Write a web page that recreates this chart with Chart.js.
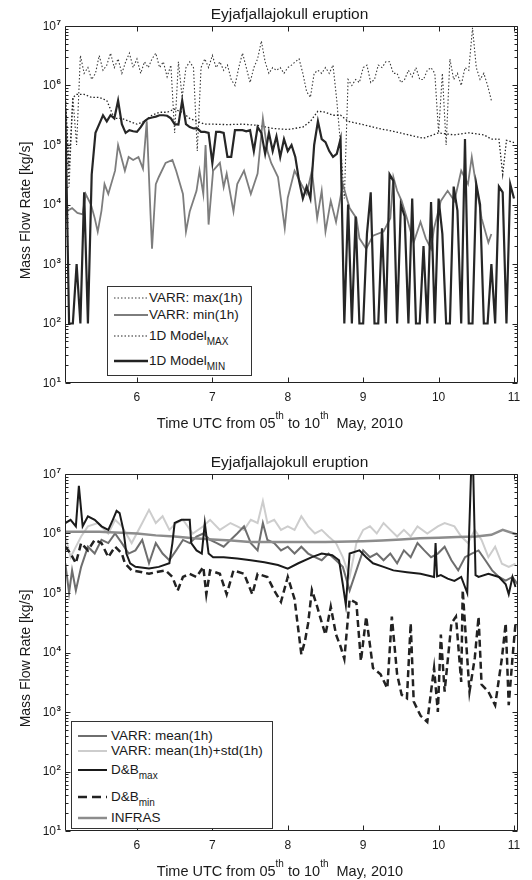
<!DOCTYPE html>
<html>
<head>
<meta charset="utf-8">
<script src="https://cdn.jsdelivr.net/npm/chart.js@4.4.0/dist/chart.umd.min.js"></script>
<style>
  body { margin: 0; background: #fff; overflow: hidden; font-family: "Liberation Sans", Arial, sans-serif; }
  .panel { position: absolute; left: 0; width: 532px; height: 440px; }
  .legend { position: absolute; background: #fff; border: 1px solid #333; box-sizing: border-box; }
  .row { position: absolute; left: 0; width: 100%; height: 16px; }
  .row svg { position: absolute; top: 5px; }
  .row span { position: absolute; top: 0; line-height: 16px; font-size: 13.5px; white-space: nowrap; color: #1a1a1a; }
  sub { font-size: 10px; vertical-align: -5px; line-height: 0; }
</style>
</head>
<body>

<div class="panel" style="top:0">
  <canvas id="top-chart" width="532" height="440"></canvas>
  <div class="legend" style="left:107px;top:286px;width:145px;height:90px">
    <div class="row" style="top:3px"><svg width="34" height="6" style="left:6px"><line x1="0" y1="3" x2="34" y2="3" stroke="#3a3a3a" stroke-width="1.2" stroke-dasharray="1.5 2"/></svg><span style="left:41px">VARR: max(1h)</span></div>
    <div class="row" style="top:20px"><svg width="34" height="6" style="left:6px"><line x1="0" y1="3" x2="34" y2="3" stroke="#7d7d7d" stroke-width="2"/></svg><span style="left:41px">VARR: min(1h)</span></div>
    <div class="row" style="top:41px"><svg width="34" height="6" style="left:6px"><line x1="0" y1="3" x2="34" y2="3" stroke="#222" stroke-width="1.2" stroke-dasharray="1.5 2"/></svg><span style="left:41px">1D Model<sub>MAX</sub></span></div>
    <div class="row" style="top:66px"><svg width="34" height="6" style="left:6px"><line x1="0" y1="3" x2="34" y2="3" stroke="#222" stroke-width="2.5"/></svg><span style="left:41px">1D Model<sub>MIN</sub></span></div>
  </div>
</div>

<div class="panel" style="top:448px">
  <canvas id="bottom-chart" width="532" height="440"></canvas>
  <div class="legend" style="left:71px;top:273px;width:202px;height:108px">
    <div class="row" style="top:6px"><svg width="29" height="6" style="left:6px"><line x1="0" y1="3" x2="29" y2="3" stroke="#6e6e6e" stroke-width="2"/></svg><span style="left:39px">VARR: mean(1h)</span></div>
    <div class="row" style="top:21px"><svg width="29" height="6" style="left:6px"><line x1="0" y1="3" x2="29" y2="3" stroke="#cdcdcd" stroke-width="2"/></svg><span style="left:39px">VARR: mean(1h)+std(1h)</span></div>
    <div class="row" style="top:40px"><svg width="29" height="6" style="left:6px"><line x1="0" y1="3" x2="29" y2="3" stroke="#1a1a1a" stroke-width="2"/></svg><span style="left:39px">D&amp;B<sub>max</sub></span></div>
    <div class="row" style="top:67px"><svg width="29" height="6" style="left:6px"><line x1="0" y1="3" x2="29" y2="3" stroke="#222" stroke-width="2.5" stroke-dasharray="9 5"/></svg><span style="left:39px">D&amp;B<sub>min</sub></span></div>
    <div class="row" style="top:88px"><svg width="29" height="6" style="left:6px"><line x1="0" y1="3" x2="29" y2="3" stroke="#8c8c8c" stroke-width="2.5"/></svg><span style="left:39px">INFRAS</span></div>
  </div>
</div>

<script>
// time (day of May) and mass flow rate [kg/s]
const varrMax = [[5.05,7.9e5],[5.10,2e4],[5.15,6.3e5],[5.20,1e5],[5.25,3.2e6],[5.30,1.6e6],[5.35,2e6],[5.40,1.26e6],[5.45,1.6e6],[5.50,3.2e6],
  [5.55,1.8e6],[5.60,2.2e6],[5.65,3.5e6],[5.70,2e6],[5.75,2.8e6],[5.80,1.6e6],[5.85,2.5e6],[5.90,3.5e6],[5.95,2e6],[6.00,2.8e6],
  [6.05,1.6e6],[6.10,2.5e6],[6.15,2e6],[6.20,2.8e6],[6.25,3.5e6],[6.30,2e6],[6.35,2.5e6],[6.40,1.4e6],[6.45,2.2e6],[6.50,1.6e5],
  [6.55,2.5e6],[6.60,6.3e5],[6.65,2e6],[6.70,2.5e6],[6.75,2e6],[6.80,7.9e4],[6.85,2e6],[6.90,2.8e6],[6.95,2e6],[7.00,3.2e6],
  [7.05,2e6],[7.10,2.5e6],[7.15,1.8e6],[7.20,2.2e6],[7.25,1.26e6],[7.30,1e6],[7.35,2e6],[7.40,3.5e6],[7.45,2e6],[7.50,1.12e6],
  [7.55,2e6],[7.60,2.8e6],[7.65,5.6e6],[7.70,2.5e6],[7.75,1.6e6],[7.80,2e6],[7.85,1.8e6],[7.90,2e6],[7.95,1.6e6],[8.00,2e6],
  [8.05,2.2e6],[8.10,2.5e6],[8.15,2.8e6],[8.20,1.6e6],[8.25,7.9e5],[8.30,6.3e5],[8.35,1.6e6],[8.40,1.8e6],[8.45,1.6e6],[8.50,2e6],
  [8.55,1.6e6],[8.60,2.2e6],[8.65,5.6e5],[8.70,1e5],[8.75,1.26e4],[8.80,1.26e6],[8.85,1e6],[8.90,1.26e6],[8.95,1.12e6],[9.00,2e6],
  [9.05,2.2e6],[9.10,1.12e6],[9.15,1.26e6],[9.20,2.2e6],[9.25,2e6],[9.30,2.5e6],[9.35,2.5e6],[9.40,1.6e6],[9.45,1.6e6],[9.50,1.12e6],
  [9.55,1.26e6],[9.60,1.8e6],[9.65,1.4e6],[9.70,2e6],[9.75,1.26e6],[9.80,1.26e6],[9.85,1.8e6],[9.90,2e6],[9.95,1.6e6],[10.00,1.6e5],
  [10.05,1.6e6],[10.10,1e5],[10.15,2.8e6],[10.20,1.26e6],[10.25,1.6e6],[10.30,1e6],[10.35,2e6],[10.40,1.8e6],[10.45,9.3e6],[10.50,2e6],
  [10.55,1.26e6],[10.60,1.6e6],[10.65,1e6],[10.70,5.6e5]];

const varrMin = [[5.05,6300],[5.08,7900],[5.14,8700],[5.21,7200],[5.28,6800],[5.32,1.5e4],[5.39,1e4],[5.44,5900],[5.48,3500],[5.53,7900],
  [5.57,2.2e4],[5.62,1.5e4],[5.71,3.7e4],[5.75,1e5],[5.84,3.7e4],[5.89,6.3e4],[5.95,5.6e4],[6.02,6.3e4],[6.08,4e4],[6.13,2.5e5],
  [6.18,6800],[6.20,1800],[6.25,2.2e4],[6.29,2.9e4],[6.38,5e4],[6.47,5.6e4],[6.52,3.7e4],[6.61,1.5e4],[6.65,3500],[6.70,7600],
  [6.79,1.7e4],[6.83,3.7e4],[6.88,1.5e4],[6.91,1e5],[6.95,4600],[7.01,3.7e4],[7.10,5e4],[7.15,1.95e4],[7.19,3.3e4],[7.28,7600],
  [7.33,2.2e4],[7.42,3.7e4],[7.51,1.5e4],[7.60,3.3e4],[7.67,2.8e5],[7.73,7.9e4],[7.78,5e4],[7.87,2.9e4],[7.96,4000],[8.00,1.3e4],
  [8.09,3.7e4],[8.18,2.2e4],[8.25,1.5e4],[8.32,3.7e4],[8.39,5900],[8.45,1.7e4],[8.50,3500],[8.57,1.15e4],[8.64,5100],[8.73,2.2e4],
  [8.82,8700],[8.91,5900],[8.95,2700],[9.04,1800],[9.13,3000],[9.27,3500],[9.36,5900],[9.40,2.9e4],[9.45,1.7e4],[9.51,1.15e4],
  [9.58,5900],[9.67,2300],[9.76,5100],[9.83,2700],[9.90,1800],[9.94,4000],[10.03,1.15e4],[10.12,1.7e4],[10.21,1.15e4],[10.30,3.7e4],
  [10.39,2.2e4],[10.44,6.3e4],[10.48,2.9e4],[10.57,5900],[10.66,2300],[10.70,3200]];

const oneDMax = [[5.05,7.1e5],[5.10,4e4],[5.15,6.3e5],[5.20,7.1e5],[5.30,7.1e5],[5.40,6.3e5],[5.50,6.3e5],[5.60,5.6e5],[5.70,2.8e5],[5.80,2.8e5],
  [5.90,2.5e5],[6.00,2.24e5],[6.10,2.5e5],[6.20,3.16e5],[6.30,3.55e5],[6.40,3.55e5],[6.50,4e5],[6.60,3.55e5],[6.70,2.8e5],[6.80,2.5e5],
  [6.90,2.24e5],[7.00,2.24e5],[7.20,2.2e5],[7.40,2.24e5],[7.60,2.14e5],[7.80,1.9e5],[8.00,1.82e5],[8.20,2e5],[8.30,2.5e5],[8.40,3.7e5],
  [8.50,3.55e5],[8.60,3.16e5],[8.70,3.16e5],[8.80,2.5e5],[9.00,2.2e5],[9.20,1.9e5],[9.40,1.7e5],[9.60,1.48e5],[9.80,1.3e5],[10.00,1.6e5],
  [10.20,1.48e5],[10.40,1.6e5],[10.60,1.48e5],[10.70,1.26e5],[10.80,1.26e5],[10.85,3.2e4],[10.90,1.2e5],[11.00,1.1e5]];

const oneDMin = [[5.05,4e5],[5.10,100],[5.15,100],[5.20,1000],[5.25,100],[5.30,1.6e4],[5.35,100],[5.40,3.2e4],[5.45,1.6e5],[5.50,2.24e5],
  [5.55,3.16e5],[5.60,2.5e5],[5.65,3.16e5],[5.70,2.8e5],[5.75,5.6e5],[5.80,2.24e5],[5.85,1.6e5],[5.90,1.78e5],[5.95,1.7e5],[6.00,1.66e5],
  [6.05,2e5],[6.10,2.5e5],[6.15,2.8e5],[6.20,2.9e5],[6.25,3e5],[6.30,3.16e5],[6.35,3.16e5],[6.40,3.1e5],[6.45,2.8e5],[6.50,2.24e5],
  [6.55,2.2e5],[6.60,5.6e5],[6.65,2.24e5],[6.70,2e5],[6.75,1.9e5],[6.80,1.9e5],[6.85,1.66e5],[6.90,1.66e5],[6.95,1.6e5],[7.00,5e4],
  [7.05,1.66e5],[7.10,1.66e5],[7.15,1.6e5],[7.20,6.3e4],[7.25,6.3e4],[7.30,1.78e5],[7.35,1.78e5],[7.40,1.78e5],[7.45,1.7e5],[7.50,1.78e5],
  [7.55,7.9e4],[7.60,2e5],[7.65,1.6e5],[7.70,7.1e4],[7.75,1.6e5],[7.80,7.9e4],[7.85,1.4e5],[7.90,6.3e4],[7.95,1.26e5],[8.00,7.9e4],
  [8.05,1e5],[8.10,6.3e4],[8.15,2.5e4],[8.20,1.26e4],[8.25,2e4],[8.30,1.26e4],[8.35,1e5],[8.40,2.5e5],[8.45,1.26e5],[8.50,1.12e5],
  [8.55,7.9e4],[8.60,6.3e4],[8.65,7.1e4],[8.70,1.26e5],[8.75,100],[8.80,1e4],[8.85,100],[8.90,6300],[8.95,100],[9.00,100],
  [9.05,3200],[9.10,1.6e4],[9.15,100],[9.20,100],[9.25,4000],[9.30,100],[9.35,3.2e4],[9.40,2.5e4],[9.45,100],[9.50,1e4],
  [9.55,6300],[9.60,100],[9.65,1.26e4],[9.70,100],[9.75,100],[9.80,2000],[9.85,100],[9.90,1.1e4],[9.95,100],[10.00,1.26e4],
  [10.05,3200],[10.10,100],[10.15,100],[10.20,2e4],[10.25,7900],[10.30,100],[10.35,1.26e5],[10.40,100],[10.45,100],[10.50,2.2e4],
  [10.55,1e4],[10.60,100],[10.65,100],[10.70,1000],[10.75,100],[10.80,2e4],[10.85,1.6e4],[10.90,100],[10.95,2.2e4],[11.00,1.26e4]];

const varrMean = [[5.05,3.16e5],[5.10,1e5],[5.14,2.4e5],[5.19,1.1e5],[5.26,2.75e5],[5.35,6e5],[5.44,4.6e5],[5.53,7.8e5],[5.62,6.9e5],[5.71,1e6],
  [5.80,6.9e5],[5.89,4.6e5],[5.98,5.2e5],[6.07,7.8e5],[6.16,3.16e5],[6.25,6.9e5],[6.34,4.6e5],[6.43,3.55e5],[6.52,5.2e5],[6.61,7.8e5],
  [6.70,6.9e5],[6.79,8.9e5],[6.88,1e6],[6.97,7.8e5],[7.06,6.9e5],[7.15,6e5],[7.24,7.8e5],[7.33,1e6],[7.42,1.32e6],[7.51,6.9e5],
  [7.60,5.2e5],[7.67,1.5e6],[7.73,7.8e5],[7.82,6.9e5],[7.91,5.2e5],[8.00,6e5],[8.09,4.6e5],[8.18,6e5],[8.27,4.6e5],[8.36,4e5],
  [8.45,3.55e5],[8.54,4.6e5],[8.64,3.55e5],[8.73,2.75e5],[8.82,1.1e5],[8.91,2.4e5],[9.00,5.2e5],[9.09,4e5],[9.18,4.6e5],[9.27,3.55e5],
  [9.36,4.6e5],[9.45,3.16e5],[9.54,5.2e5],[9.63,4e5],[9.72,6.9e5],[9.81,5.2e5],[9.90,4e5],[9.99,4.6e5],[10.08,6e5],[10.17,3.55e5],
  [10.26,2.4e5],[10.35,4e5],[10.44,4.6e5],[10.53,5.2e5],[10.62,3.55e5],[10.71,2.4e5],[10.80,1.86e5],[10.89,1.62e5],[10.98,1.86e5],[11.05,1.4e5]];

const varrMeanStd = [[5.05,8.9e5],[5.12,4e5],[5.26,8.9e5],[5.35,1.32e6],[5.48,1.5e6],[5.62,1e6],[5.71,1.7e6],[5.80,1.32e6],[5.93,6.9e5],[6.07,1.5e6],
  [6.16,2.5e6],[6.25,1.5e6],[6.34,1.95e6],[6.43,1.15e6],[6.52,1.5e6],[6.61,1.7e6],[6.74,1e6],[6.88,1.32e6],[6.97,1.7e6],[7.10,1.15e6],
  [7.24,1.5e6],[7.33,1.32e6],[7.42,1.15e6],[7.51,1.7e6],[7.60,1.5e6],[7.67,3.5e6],[7.73,1.5e6],[7.82,1.7e6],[7.91,1.15e6],[8.00,1.32e6],
  [8.09,1.15e6],[8.18,1.95e6],[8.27,1.32e6],[8.36,1e6],[8.45,1.15e6],[8.54,8.9e5],[8.64,6.9e5],[8.73,4e5],[8.82,1.86e5],[8.91,6.9e5],
  [9.00,1.15e6],[9.09,1.32e6],[9.18,1e6],[9.27,1.5e6],[9.36,1.15e6],[9.45,8.9e5],[9.54,1.15e6],[9.63,8.9e5],[9.72,1.32e6],[9.85,1e6],
  [9.99,1.32e6],[10.08,1.5e6],[10.21,1.32e6],[10.30,8.9e5],[10.39,6.9e5],[10.48,1.15e6],[10.57,7.8e5],[10.66,4e5],[10.75,6e5],[10.84,3.1e5],
  [10.93,2.75e5],[11.02,3.1e5]];

const dbMax = [[5.05,1.5e6],[5.12,1.7e6],[5.19,1.32e6],[5.23,6.3e6],[5.28,1.32e6],[5.35,1.95e6],[5.44,1.7e6],[5.53,1.32e6],[5.62,1.15e6],[5.68,1.7e6],
  [5.73,2.4e6],[5.77,2.2e6],[5.82,1.15e6],[5.86,4.6e5],[5.91,3.16e5],[5.98,2.75e5],[6.16,2.57e5],[6.29,2.75e5],[6.43,3.16e5],[6.47,6.9e5],
  [6.50,1.5e6],[6.59,1.7e6],[6.70,1.7e6],[6.72,6.9e5],[6.79,5.2e5],[6.86,4.6e5],[6.90,1.5e6],[6.95,4.6e5],[7.01,4e5],[7.15,4e5],
  [7.33,3.8e5],[7.51,3.55e5],[7.69,3.3e5],[7.87,2.95e5],[8.00,2.57e5],[8.14,3.16e5],[8.32,4e5],[8.45,4.6e5],[8.59,4.3e5],[8.68,3.55e5],
  [8.73,1.4e5],[8.77,6.3e4],[8.82,4.6e5],[8.95,5.2e5],[9.04,4e5],[9.13,3.16e5],[9.27,2.75e5],[9.40,2.4e5],[9.58,2.24e5],[9.76,2.1e5],
  [9.94,1.86e5],[9.96,6.9e5],[9.98,1.9e5],[10.03,2e5],[10.12,1.74e5],[10.21,1.6e5],[10.30,1.86e5],[10.38,1e5],[10.43,9.9e6],[10.46,9.9e6],
  [10.49,2e5],[10.53,1.86e5],[10.66,2.1e5],[10.80,1.86e5],[10.89,1.4e5],[10.93,9.5e4],[10.98,1.86e5],[11.02,1.26e5]];

const dbMin = [[5.05,6e5],[5.12,4.6e5],[5.19,3.16e5],[5.26,6.9e5],[5.35,5.2e5],[5.44,7.8e5],[5.53,6.9e5],[5.62,4e5],[5.71,6e5],[5.80,4.6e5],
  [5.84,3.16e5],[5.93,2.4e5],[6.07,2.24e5],[6.16,2.1e5],[6.25,2.24e5],[6.38,2.4e5],[6.47,1.86e5],[6.54,1.1e5],[6.61,1.86e5],[6.70,2.1e5],
  [6.79,1.86e5],[6.88,2.75e5],[6.92,9.5e4],[6.97,2.4e5],[7.10,2.1e5],[7.19,9.5e4],[7.28,2.4e5],[7.42,2.1e5],[7.53,9.5e4],[7.60,2.1e5],
  [7.73,1.86e5],[7.82,1.1e5],[7.91,7.1e4],[8.00,1.86e5],[8.09,7.9e4],[8.18,9300],[8.23,1.6e4],[8.27,3.1e4],[8.32,1.12e5],[8.39,5.9e4],
  [8.45,3.2e4],[8.50,2e4],[8.57,5.9e4],[8.64,2e4],[8.70,1.26e4],[8.75,7800],[8.82,7.8e4],[8.91,6.8e4],[8.97,7200],[9.04,4e4],
  [9.13,5500],[9.23,4300],[9.32,2500],[9.38,4e4],[9.45,4300],[9.51,1950],[9.58,1700],[9.63,3.1e4],[9.67,1500],[9.76,870],
  [9.85,680],[9.90,2200],[9.94,5500],[9.99,1000],[10.03,2e4],[10.08,2200],[10.17,3.1e4],[10.23,4e4],[10.30,3200],[10.32,1.12e5],
  [10.37,1.23e4],[10.41,2200],[10.48,8100],[10.53,4e4],[10.57,2900],[10.66,2200],[10.75,1300],[10.84,8100],[10.89,3.1e4],[10.93,1300],
  [10.98,8100],[11.02,3.1e4]];

const infras = [[5.05,1.07e6],[5.50,1.07e6],[6.00,1e6],[6.25,9.3e5],[6.50,8.9e5],[6.75,8.3e5],[7.00,7.9e5],[7.25,7.6e5],[7.50,7.2e5],[8.00,7.2e5],
  [8.50,7.2e5],[9.00,7.4e5],[9.25,7.6e5],[9.50,7.9e5],[9.75,8.3e5],[10.00,8.5e5],[10.25,8.7e5],[10.50,8.9e5],[10.70,9.5e5],[10.85,1.15e6],
  [11.05,9.5e5]];

const xTicks = [6, 7, 8, 9, 10, 11];
const yExponents = [1, 2, 3, 4, 5, 6, 7];
const chartTitle = 'Eyjafjallajokull eruption';
const yTitle = 'Mass Flow Rate [kg/s]';
const xTitleParts = [['Time UTC from 05', false], ['th', true], [' to 10', false], ['th', true], ['  May, 2010', false]];

const FONT = '"Liberation Sans", Arial, sans-serif';
const INK = '#1a1a1a';

function toPoints(rows) {
    return rows.map(r => ({ x: r[0], y: r[1] }));
}

function series(rows, color, width, dash) {
    return {
        data: toPoints(rows),
        borderColor: color,
        borderWidth: width,
        borderDash: dash || [],
        pointRadius: 0,
        tension: 0,
        fill: false
    };
}

// MATLAB-style box, inward ticks and labels
const matlabAxes = {
    id: 'matlabAxes',
    afterDraw(chart) {
        const { ctx, chartArea: a } = chart;
        const x = chart.scales.x, y = chart.scales.y;
        const L = Math.round(a.left) + 0.5, R = Math.round(a.right) - 0.5;
        const T = Math.round(a.top) + 0.5, B = Math.round(a.bottom) - 0.5;
        ctx.save();
        ctx.strokeStyle = '#222';
        ctx.lineWidth = 1;
        ctx.beginPath();
        ctx.rect(L, T, R - L, B - T);

        yExponents.forEach(e => {
            const py = Math.round(y.getPixelForValue(Math.pow(10, e))) + 0.5;
            ctx.moveTo(L, py); ctx.lineTo(L + 5, py);
            ctx.moveTo(R, py); ctx.lineTo(R - 5, py);
            if (e < 7) {
                for (let k = 2; k <= 9; k++) {
                    const pm = Math.round(y.getPixelForValue(k * Math.pow(10, e))) + 0.5;
                    ctx.moveTo(L, pm); ctx.lineTo(L + 3, pm);
                    ctx.moveTo(R, pm); ctx.lineTo(R - 3, pm);
                }
            }
        });
        xTicks.forEach(t => {
            const px = Math.round(x.getPixelForValue(t)) + 0.5;
            ctx.moveTo(px, B); ctx.lineTo(px, B - 5);
            ctx.moveTo(px, T); ctx.lineTo(px, T + 5);
        });
        ctx.stroke();

        ctx.fillStyle = INK;
        // x tick labels
        ctx.font = '12px ' + FONT;
        ctx.textAlign = 'center';
        ctx.textBaseline = 'middle';
        xTicks.forEach(t => ctx.fillText(String(t), x.getPixelForValue(t), a.bottom + 15));

        // y tick labels 10^n
        yExponents.forEach(e => {
            const py = y.getPixelForValue(Math.pow(10, e));
            ctx.font = '12px ' + FONT;
            ctx.textAlign = 'right';
            ctx.textBaseline = 'middle';
            ctx.fillText('10', a.left - 9, py + 0.5);
            ctx.font = 'bold 8px ' + FONT;
            ctx.textAlign = 'left';
            ctx.fillText(String(e), a.left - 8.5, py - 3.5);
        });

        // title
        ctx.font = '15.5px ' + FONT;
        ctx.textAlign = 'center';
        ctx.textBaseline = 'alphabetic';
        ctx.fillText(chartTitle, (a.left + a.right) / 2 - 2, 19);

        // y title
        ctx.save();
        ctx.translate(26, (a.top + a.bottom) / 2 + 6);
        ctx.rotate(-Math.PI / 2);
        ctx.font = '14px ' + FONT;
        ctx.textAlign = 'center';
        ctx.textBaseline = 'middle';
        ctx.fillText(yTitle, 0, 0);
        ctx.restore();

        // x title with superscripts
        const size = 14.5, supSize = 10;
        let w = 0;
        xTitleParts.forEach(p => {
            ctx.font = (p[1] ? supSize : size) + 'px ' + FONT;
            w += ctx.measureText(p[0]).width;
        });
        let cx = 280 - w / 2;
        const base = a.bottom + 45;
        ctx.textAlign = 'left';
        xTitleParts.forEach(p => {
            ctx.font = (p[1] ? supSize : size) + 'px ' + FONT;
            ctx.fillText(p[0], cx, p[1] ? base - 9 : base);
            cx += ctx.measureText(p[0]).width;
        });
        ctx.restore();
    }
};

function makeChart(id, datasets) {
    return new Chart(document.getElementById(id), {
        type: 'line',
        data: { datasets: datasets },
        options: {
            responsive: false,
            animation: false,
            events: [],
            layout: { padding: { left: 65, right: 14, top: 26, bottom: 57 } },
            scales: {
                x: { type: 'linear', min: 5.046, max: 11.053, display: false },
                y: { type: 'logarithmic', min: 10, max: 1e7, display: false }
            },
            plugins: {
                legend: { display: false },
                tooltip: { enabled: false }
            }
        },
        plugins: [matlabAxes]
    });
}

// first dataset is drawn on top
makeChart('top-chart', [
    series(oneDMin, '#262626', 2.2),
    series(varrMin, '#7d7d7d', 1.8),
    series(oneDMax, '#222222', 1.3, [1.5, 2]),
    series(varrMax, '#3a3a3a', 1.1, [1.5, 2])
]);

makeChart('bottom-chart', [
    series(dbMax, '#1a1a1a', 2),
    series(dbMin, '#222222', 2.5, [7, 4]),
    series(infras, '#8c8c8c', 2.5),
    series(varrMean, '#6e6e6e', 2),
    series(varrMeanStd, '#cdcdcd', 2)
]);
</script>
</body>
</html>
